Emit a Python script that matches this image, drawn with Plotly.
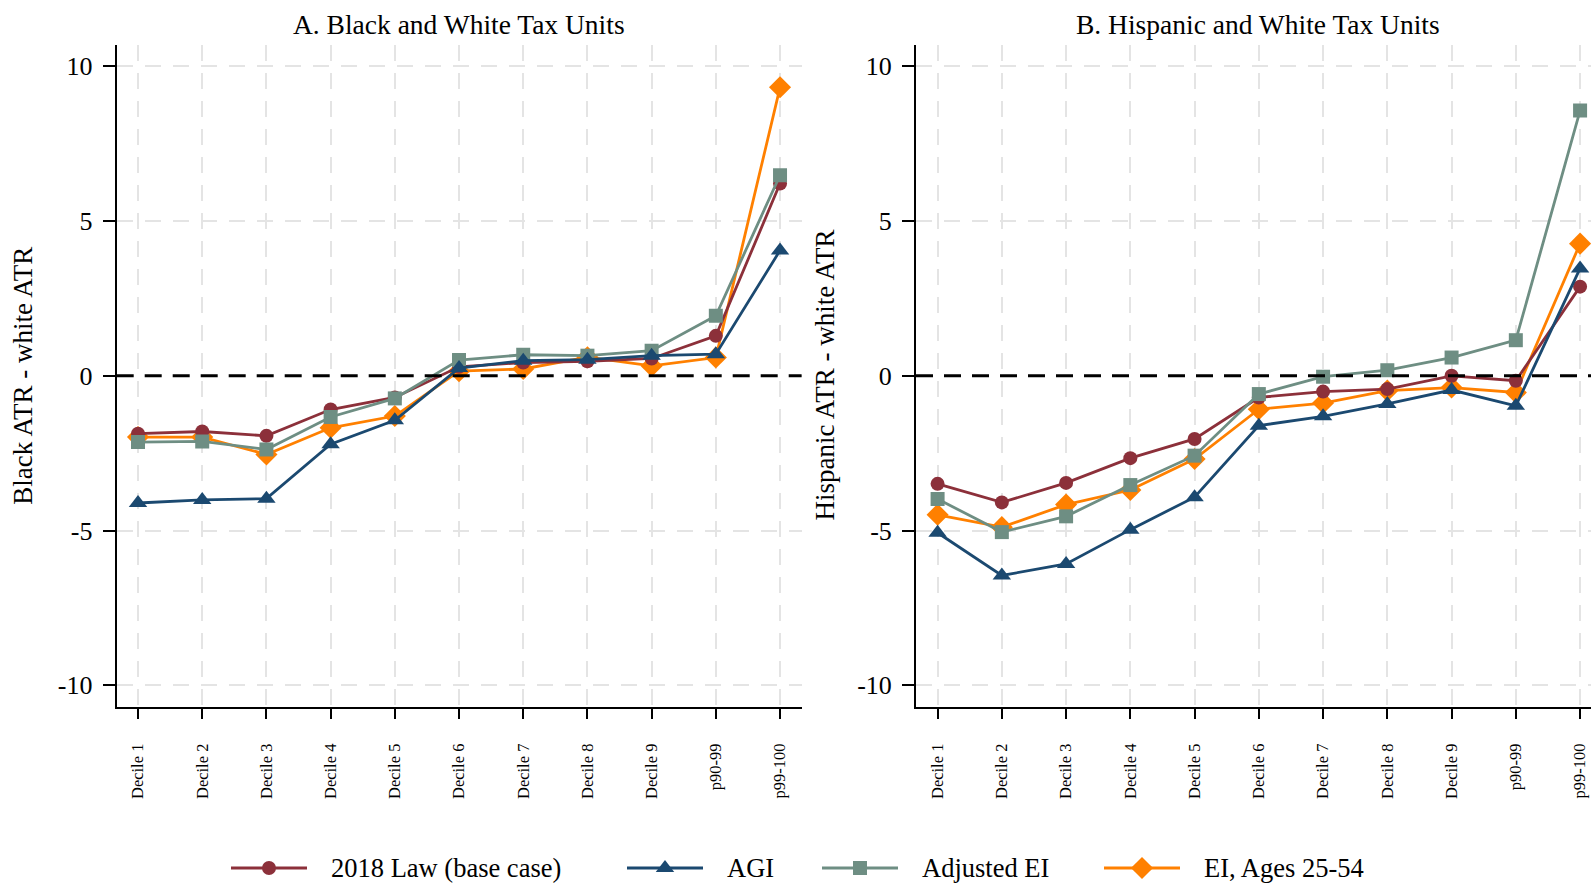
import plotly.graph_objects as go

# ---- data -------------------------------------------------------------
categories = ["Decile 1", "Decile 2", "Decile 3", "Decile 4", "Decile 5",
              "Decile 6", "Decile 7", "Decile 8", "Decile 9", "p90-99", "p99-100"]
y_tick_values = [-10, -5, 0, 5, 10]
y_tick_labels = ["-10", "-5", "0", "5", "10"]

series_names = ["2018 Law (base case)", "AGI", "Adjusted EI", "EI, Ages 25-54"]

# Panel A: Black minus white average tax rate
black_law2018 = [-1.87, -1.80, -1.94, -1.09, -0.70, 0.29, 0.43, 0.47, 0.56, 1.29, 6.21]
black_agi = [-4.11, -4.01, -3.97, -2.21, -1.44, 0.25, 0.49, 0.52, 0.65, 0.70, 4.05]
black_adj_ei = [-2.14, -2.12, -2.38, -1.33, -0.73, 0.51, 0.68, 0.65, 0.81, 1.94, 6.48]
black_ei_2554 = [-1.98, -1.98, -2.54, -1.68, -1.30, 0.15, 0.22, 0.60, 0.32, 0.59, 9.32]

# Panel B: Hispanic minus white average tax rate
hisp_law2018 = [-3.49, -4.09, -3.46, -2.66, -2.04, -0.70, -0.51, -0.43, 0.00, -0.16, 2.88]
hisp_agi = [-5.07, -6.45, -6.08, -4.97, -3.92, -1.61, -1.31, -0.91, -0.46, -0.97, 3.47]
hisp_adj_ei = [-3.98, -5.05, -4.54, -3.53, -2.58, -0.59, -0.03, 0.18, 0.59, 1.15, 8.57]
hisp_ei_2554 = [-4.49, -4.89, -4.16, -3.69, -2.69, -1.08, -0.88, -0.48, -0.38, -0.54, 4.27]

# ---- styling ----------------------------------------------------------
W, H = 1591, 883
FONT = "Liberation Serif"
colors = ["#8C303A", "#1B4970", "#6E8E83", "#FF8000"]
symbols = ["circle", "triangle-up", "square", "diamond"]
sizes = [14, 16, 14, 17]
draw_order = [3, 0, 2, 1]  # orange underneath, navy on top

xpos = list(range(len(categories)))

fig = go.Figure()

panels = [
    ("x", "y", [black_law2018, black_agi, black_adj_ei, black_ei_2554]),
    ("x2", "y2", [hisp_law2018, hisp_agi, hisp_adj_ei, hisp_ei_2554]),
]
for xa, ya, data in panels:
    for i in draw_order:
        fig.add_trace(go.Scatter(
            x=xpos, y=data[i], xaxis=xa, yaxis=ya,
            mode="lines+markers", name=series_names[i], showlegend=False,
            line=dict(color=colors[i], width=2.8),
            marker=dict(symbol=symbols[i], size=sizes[i], color=colors[i],
                        line=dict(width=0)),
        ))

# ---- legend row (drawn on a hidden pixel-scaled axis) ----------------
legend_key_left = [231, 627, 822, 1104]
legend_key_len = 76
legend_text_gap = 22
legend_row_y = 15
for i in range(4):
    x0 = legend_key_left[i]
    fig.add_trace(go.Scatter(
        x=[x0, x0 + legend_key_len], y=[legend_row_y] * 2,
        xaxis="x3", yaxis="y3", mode="lines", showlegend=False, hoverinfo="skip",
        line=dict(color=colors[i], width=2.8),
    ))
    fig.add_trace(go.Scatter(
        x=[x0 + legend_key_len / 2], y=[legend_row_y],
        xaxis="x3", yaxis="y3", mode="markers", showlegend=False, hoverinfo="skip",
        marker=dict(symbol=symbols[i], size=sizes[i], color=colors[i],
                    line=dict(width=0)),
    ))
    fig.add_annotation(
        x=x0 + legend_key_len + legend_text_gap, y=legend_row_y,
        xref="x3", yref="y3", xanchor="left", yanchor="middle",
        text=series_names[i], showarrow=False,
        font=dict(family=FONT, size=26.5, color="black"),
    )

# ---- axes -------------------------------------------------------------
y_top = 1 - 44.6 / H
y_bot = 1 - 707 / H
grid = dict(showgrid=True, gridcolor="#e4e4e4", gridwidth=2, griddash="16px,12px")

xcommon = dict(
    tickmode="array", tickvals=xpos, ticktext=categories, tickangle=-90,
    ticks="outside", ticklen=10, tickwidth=2, tickcolor="black",
    showline=True, linecolor="black", linewidth=2, zeroline=False,
    ticklabelstandoff=18,
    tickfont=dict(family=FONT, size=16.5, color="black"), **grid,
)
ycommon = dict(
    range=[-10.7, 10.7], tickmode="array", tickvals=y_tick_values,
    ticktext=y_tick_labels,
    ticks="outside", ticklen=12, tickwidth=2, tickcolor="black",
    showline=True, linecolor="black", linewidth=2, zeroline=False,
    ticklabelstandoff=5,
    tickfont=dict(family=FONT, size=26, color="black"), **grid,
)

fig.update_layout(
    width=W, height=H,
    margin=dict(l=0, r=0, t=0, b=0),
    paper_bgcolor="white", plot_bgcolor="white",
    showlegend=False,
    xaxis=dict(domain=[116.7 / W, 801.6 / W], range=[-0.332, 10.336], anchor="y", **xcommon),
    yaxis=dict(domain=[y_bot, y_top], anchor="x", **ycommon),
    xaxis2=dict(domain=[916 / W, 1.0], range=[-0.336, 10.17], anchor="y2", **xcommon),
    yaxis2=dict(domain=[y_bot, y_top], anchor="x2", **ycommon),
    xaxis3=dict(domain=[0, 1], range=[0, W], visible=False, fixedrange=True),
    yaxis3=dict(domain=[0, 40 / H], range=[0, 40], visible=False, fixedrange=True,
                anchor="x3"),
)

# dashed reference line at zero in each panel
for xa, ya in [("x", "y"), ("x2", "y2")]:
    fig.add_shape(type="line", xref=f"{xa} domain", yref=ya,
                  x0=0, x1=1, y0=0, y1=0,
                  line=dict(color="black", width=3, dash="17px,11px"))

# panel titles
fig.add_annotation(x=458.6 / W, y=1 - 24.4 / H, xref="paper", yref="paper",
                   text="A. Black and White Tax Units", showarrow=False,
                   xanchor="center", yanchor="middle",
                   font=dict(family=FONT, size=27.5, color="black"))
fig.add_annotation(x=1258 / W, y=1 - 24.4 / H, xref="paper", yref="paper",
                   text="B. Hispanic and White Tax Units", showarrow=False,
                   xanchor="center", yanchor="middle",
                   font=dict(family=FONT, size=27.5, color="black"))

# y-axis titles
fig.add_annotation(x=22.3 / W, y=1 - 375.5 / H, xref="paper", yref="paper",
                   text="Black ATR - white ATR", textangle=-90, showarrow=False,
                   xanchor="center", yanchor="middle",
                   font=dict(family=FONT, size=27, color="black"))
fig.add_annotation(x=824 / W, y=1 - 375.5 / H, xref="paper", yref="paper",
                   text="Hispanic ATR - white ATR", textangle=-90, showarrow=False,
                   xanchor="center", yanchor="middle",
                   font=dict(family=FONT, size=27, color="black"))

fig.write_html("out.html")
